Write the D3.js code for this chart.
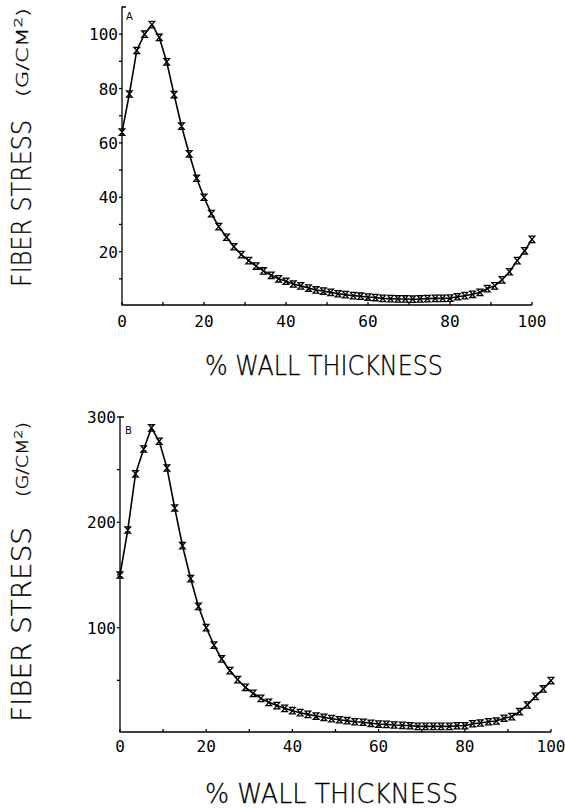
<!DOCTYPE html>
<html>
<head>
<meta charset="utf-8">
<script src="https://cdn.jsdelivr.net/npm/d3@7/dist/d3.min.js"></script>
<style>
  body { margin:0; background:#fff; }
  svg { display:block; background:#fff; }
  .tick-lbl { font-family:"DejaVu Sans Mono", monospace; font-size:16px; fill:#000; }
  .title { font-family:"DejaVu Sans", sans-serif; font-weight:200; fill:#000; stroke:#000; stroke-width:0.3; }
  .line { fill:none; stroke:#000; stroke-width:1.6; }
  .mark { fill:none; stroke:#000; stroke-width:1.3; }
  .axis-line { stroke:#000; stroke-width:1.3; fill:none; }
</style>
</head>
<body>
<script>
// sample positions (% wall thickness)
var wallPct = [0, 1.8, 3.6, 5.5, 7.3, 9.1, 10.9, 12.7, 14.5, 16.4, 18.2, 20, 21.8, 23.6, 25.5,
  27.3, 29.1, 30.9, 32.7, 34.5, 36.4, 38.2, 40, 41.8, 43.6, 45.5, 47.3, 49.1, 50.9, 52.7,
  54.5, 56.4, 58.2, 60, 61.8, 63.6, 65.5, 67.3, 69.1, 70.9, 72.7, 74.5, 76.4, 78.2, 80,
  81.8, 83.6, 85.5, 87.3, 89.1, 90.9, 92.7, 94.5, 96.4, 98.2, 100];

// panel A fiber stress (g/cm2)
var stressA = [64, 78, 94, 100, 103.5, 98.8, 89.8, 77.8, 66.2, 56, 47, 40, 34, 29.2, 25.3,
  21.8, 18.9, 16.7, 14.7, 12.9, 11.3, 10.0, 9.1, 8.1, 7.4, 6.6, 5.9, 5.5, 5.0, 4.5,
  4.2, 3.8, 3.6, 3.3, 3.1, 2.8, 2.7, 2.6, 2.6, 2.5, 2.6, 2.7, 2.8, 2.8, 2.9,
  3.4, 3.8, 4.3, 5.0, 6.4, 7.4, 9.6, 12.6, 16.7, 20.3, 24.5];

// panel B fiber stress (g/cm2)
var stressB = [150, 192.7, 246, 269.6, 289.6, 277, 251.6, 213.6, 177.8, 146.5, 120.3, 100, 83.5, 70.3, 59.2,
  50.6, 43.4, 37.7, 32.9, 29.1, 26, 23.4, 21.2, 19.3, 17.7, 16.1, 14.9, 13.6, 12.6, 11.7,
  10.7, 10.2, 9.2, 8.5, 8.2, 7.6, 7.3, 6.9, 6.3, 6.3, 6.3, 6.3, 6.3, 6.9, 6.9,
  8.8, 9.5, 10.7, 11.4, 14, 15.5, 20.2, 26.6, 34.8, 41.8, 49.7];

var xTickLabels = [0, 20, 40, 60, 80, 100];
var xMinorTicks = [10, 30, 50, 70, 90];
var yTicksA = [20, 40, 60, 80, 100];
var yMinorA = [10, 30, 50, 70, 90];
var yTicksB = [100, 200, 300];
var yMinorB = [50, 150, 250];

var width = 565, height = 810;

var svg = d3.select("body").append("svg")
  .attr("width", width)
  .attr("height", height);

draw({
  tag: "A", vals: stressA, yMax: 110, yTicks: yTicksA, yMinor: yMinorA,
  x0: 122, x1: 532, yBase: 306, yTop: 7, axisY: 305,
  tagX: 126, tagY: 20,
  xLblY: 327, xTitleY: 375, xTitleX: 205, xTitleW: 238,
  yTitle1: [287, 120], yTitle2: [97, 8]
});

draw({
  tag: "B", vals: stressB, yMax: 300, yTicks: yTicksB, yMinor: yMinorB,
  x0: 120, x1: 551, yBase: 733, yTop: 417, axisY: 732,
  tagX: 125, tagY: 434,
  xLblY: 752, xTitleY: 803, xTitleX: 205, xTitleW: 253,
  yTitle1: [722, 527], yTitle2: [497, 422]
});

function draw(p) {
  var x = d3.scaleLinear().domain([0, 100]).range([p.x0, p.x1]);
  var y = d3.scaleLinear().domain([0, p.yMax]).range([p.yBase, p.yTop]);
  var g = svg.append("g");

  // axes
  g.append("path").attr("class", "axis-line")
    .attr("d", "M" + (p.x0 + 4) + "," + p.yTop + "H" + p.x0 + "V" + p.axisY + "H" + p.x1);

  // y ticks
  g.selectAll(".ytick").data(p.yTicks.concat(p.yMinor)).enter().append("line")
    .attr("class", "axis-line")
    .attr("x1", p.x0 - 3).attr("x2", p.x0)
    .attr("y1", function(d) { return y(d); })
    .attr("y2", function(d) { return y(d); });

  g.selectAll(".ylbl").data(p.yTicks).enter().append("text")
    .attr("class", "tick-lbl")
    .attr("x", p.x0 - 4)
    .attr("y", function(d) { return y(d) + 6; })
    .attr("text-anchor", "end")
    .text(function(d) { return d; });

  // x ticks
  g.selectAll(".xtick").data(xTickLabels.concat(xMinorTicks)).enter().append("line")
    .attr("class", "axis-line")
    .attr("x1", function(d) { return x(d); })
    .attr("x2", function(d) { return x(d); })
    .attr("y1", p.axisY).attr("y2", p.axisY - 3);

  g.selectAll(".xlbl").data(xTickLabels).enter().append("text")
    .attr("class", "tick-lbl")
    .attr("x", function(d) { return x(d); })
    .attr("y", p.xLblY)
    .attr("text-anchor", "middle")
    .text(function(d) { return d; });

  // panel tag
  g.append("text")
    .attr("x", p.tagX).attr("y", p.tagY)
    .style("font-family", "DejaVu Sans, sans-serif")
    .style("font-size", "10px")
    .text(p.tag);

  // curve
  var line = d3.line()
    .x(function(d, i) { return x(wallPct[i]); })
    .y(function(d) { return y(d); });

  g.append("path").datum(p.vals)
    .attr("class", "line")
    .attr("d", line);

  g.selectAll(".mark").data(p.vals).enter().append("path")
    .attr("class", "mark")
    .attr("transform", function(d, i) { return "translate(" + x(wallPct[i]) + "," + y(d) + ")"; })
    .attr("d", "M-2.8,-3.2H2.8L-2.8,3.2H2.8Z");

  // x title
  g.append("text")
    .attr("class", "title")
    .attr("x", p.xTitleX).attr("y", p.xTitleY)
    .attr("textLength", p.xTitleW)
    .attr("lengthAdjust", "spacingAndGlyphs")
    .style("font-size", "26px")
    .text("% WALL THICKNESS");

  // y title (rotated)
  var t1 = p.yTitle1, t2 = p.yTitle2;
  g.append("text")
    .attr("class", "title")
    .attr("transform", "translate(31," + t1[0] + ") rotate(-90)")
    .attr("textLength", t1[0] - t1[1])
    .attr("lengthAdjust", "spacingAndGlyphs")
    .style("font-size", "26px")
    .text("FIBER STRESS");

  var yt = g.append("text")
    .attr("class", "title")
    .attr("transform", "translate(28," + t2[0] + ") rotate(-90)")
    .attr("textLength", t2[0] - t2[1])
    .attr("lengthAdjust", "spacingAndGlyphs")
    .style("font-size", "15px");
  yt.append("tspan").text("(G/CM");
  yt.append("tspan").attr("baseline-shift", "super").style("font-size", "11px").text("2");
  yt.append("tspan").text(")");
}
</script>
</body>
</html>
